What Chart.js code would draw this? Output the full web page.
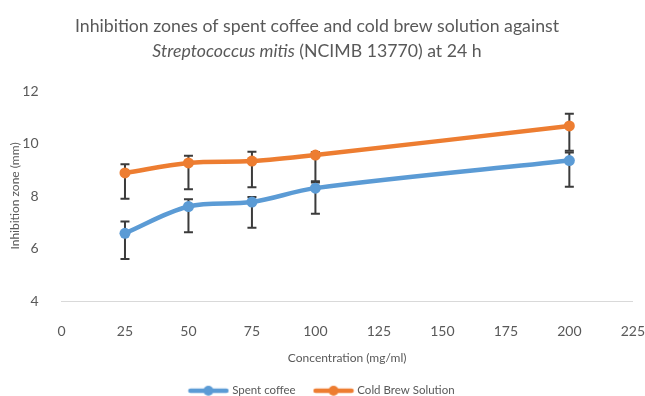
<!DOCTYPE html>
<html><head><meta charset="utf-8">
<script src="https://cdn.jsdelivr.net/npm/chart.js@4/dist/chart.umd.min.js"></script>
<style>html,body{margin:0;padding:0;background:#fff}</style>
</head><body>
<canvas id="c" width="645" height="396"></canvas>
<script>
const titleLine1 = "Inhibition zones of spent coffee and cold brew solution against";
const titleLine2Italic = "Streptococcus mitis";
const titleLine2Rest = " (NCIMB 13770) at 24 h";
const xAxisTitle = "Concentration (mg/ml)";
const yAxisTitle = "Inhibition zone (mm)";
const concentrations = [25, 50, 75, 100, 200];
const spentCoffee = [6.58, 7.60, 7.77, 8.30, 9.35];
const spentCoffeeErrPlus = [0.45, 0.28, 0.19, 0.21, 0.31];
const spentCoffeeErrMinus = [0.98, 0.98, 0.98, 0.98, 1.00];
const coldBrew = [8.88, 9.26, 9.33, 9.56, 10.67];
const coldBrewErrPlus = [0.33, 0.27, 0.36, 0.12, 0.46];
const coldBrewErrMinus = [0.98, 1.00, 1.00, 1.00, 0.95];
const xTicks = [0, 25, 50, 75, 100, 125, 150, 175, 200, 225];
const yTicks = [4, 6, 8, 10, 12];

const FONT = "Lato, 'Open Sans', sans-serif";
const BLUE = '#5B9BD5', ORANGE = '#ED7D31', TXT = '#595959';

function legendMarker(color) {
  const c = document.createElement('canvas');
  c.width = 42; c.height = 12;
  const g = c.getContext('2d');
  g.strokeStyle = color; g.lineWidth = 4.5; g.lineCap = 'round';
  g.beginPath(); g.moveTo(3, 6); g.lineTo(39, 6); g.stroke();
  g.fillStyle = color; g.beginPath(); g.arc(21, 6, 5, 0, Math.PI * 2); g.fill();
  return c;
}

const errorBars = {
  id: 'errorBars',
  beforeDatasetsDraw(chart) {
    const {ctx, scales: {x, y}} = chart;
    const sets = [[spentCoffee, spentCoffeeErrPlus, spentCoffeeErrMinus], [coldBrew, coldBrewErrPlus, coldBrewErrMinus]];
    ctx.save();
    ctx.strokeStyle = '#3b3b3b'; ctx.lineWidth = 2;
    sets.forEach(([vals, plus, minus]) => {
      vals.forEach((v, i) => {
        const px = x.getPixelForValue(concentrations[i]);
        const yt = y.getPixelForValue(v + plus[i]);
        const yb = y.getPixelForValue(v - minus[i]);
        ctx.beginPath();
        ctx.moveTo(px, yt); ctx.lineTo(px, yb);
        ctx.moveTo(px - 4.5, yt); ctx.lineTo(px + 4.5, yt);
        ctx.moveTo(px - 4.5, yb); ctx.lineTo(px + 4.5, yb);
        ctx.stroke();
      });
    });
    ctx.restore();
  }
};

const titlePlugin = {
  id: 'mixedTitle',
  afterDraw(chart) {
    const ctx = chart.ctx;
    const cx = 317;
    const size = 17.7;
    ctx.save();
    ctx.fillStyle = TXT; ctx.textBaseline = 'middle';
    ctx.font = size + "px " + FONT;
    ctx.textAlign = 'center';
    ctx.fillText(titleLine1, cx, 26);
    const fi = "italic " + size + "px " + FONT, fn = size + "px " + FONT;
    ctx.font = fi; const w1 = ctx.measureText(titleLine2Italic).width;
    ctx.font = fn; const w2 = ctx.measureText(titleLine2Rest).width;
    let sx = cx - (w1 + w2) / 2;
    ctx.textAlign = 'left';
    ctx.font = fi; ctx.fillText(titleLine2Italic, sx, 51);
    ctx.font = fn; ctx.fillText(titleLine2Rest, sx + w1, 51);
    ctx.restore();
  }
};

new Chart(document.getElementById('c'), {
  type: 'line',
  data: {
    datasets: [
      { label: 'Spent coffee', data: concentrations.map((c, i) => ({x: c, y: spentCoffee[i]})),
        borderColor: BLUE, backgroundColor: BLUE, borderWidth: 4.5, pointRadius: 5.5,
        pointBackgroundColor: BLUE, pointBorderColor: BLUE, pointBorderWidth: 0, tension: 0.35 },
      { label: 'Cold Brew Solution', data: concentrations.map((c, i) => ({x: c, y: coldBrew[i]})),
        borderColor: ORANGE, backgroundColor: ORANGE, borderWidth: 4.5, pointRadius: 5.5,
        pointBackgroundColor: ORANGE, pointBorderColor: ORANGE, pointBorderWidth: 0, tension: 0.35 }
    ]
  },
  options: {
    responsive: false, devicePixelRatio: 1, animation: false,
    layout: { padding: { left: 0, right: 0, top: 91, bottom: 0 } },
    plugins: {
      title: { display: false },
      tooltip: { enabled: false },
      legend: {
        position: 'bottom', maxHeight: 31,
        labels: {
          usePointStyle: true, pointStyleWidth: 36, padding: 20, color: TXT,
          font: { family: FONT, size: 11.5 },
          generateLabels(chart) {
            return chart.data.datasets.map((d, i) => ({
              text: d.label, fillStyle: d.borderColor, strokeStyle: d.borderColor,
              fontColor: TXT, lineWidth: 0, pointStyle: legendMarker(d.borderColor), datasetIndex: i, hidden: false
            }));
          }
        }
      }
    },
    scales: {
      x: {
        type: 'linear', min: 0, max: 225,
        afterBuildTicks(s) { s.ticks = xTicks.map(v => ({value: v})); },
        afterFit(s) { s.height = 64; },
        grid: { display: false, drawTicks: true, tickLength: 22 },
        border: { display: true, color: '#D9D9D9', width: 1 },
        ticks: { color: TXT, font: { family: FONT, size: 14 }, padding: 0, maxRotation: 0 },
        title: { display: true, text: xAxisTitle, color: TXT, font: { family: FONT, size: 12 }, padding: { top: 0, bottom: 0 } }
      },
      y: {
        min: 4, max: 12,
        afterBuildTicks(s) { s.ticks = yTicks.map(v => ({value: v})); },
        afterFit(s) { s.width = 61.5; },
        grid: { display: false },
        border: { display: false },
        ticks: { color: TXT, font: { family: FONT, size: 14 }, padding: 15 },
        title: { display: true, text: yAxisTitle, color: TXT, font: { family: FONT, size: 12 }, padding: { top: 8, bottom: 0 } }
      }
    }
  },
  plugins: [errorBars, titlePlugin]
});
</script>
</body></html>
